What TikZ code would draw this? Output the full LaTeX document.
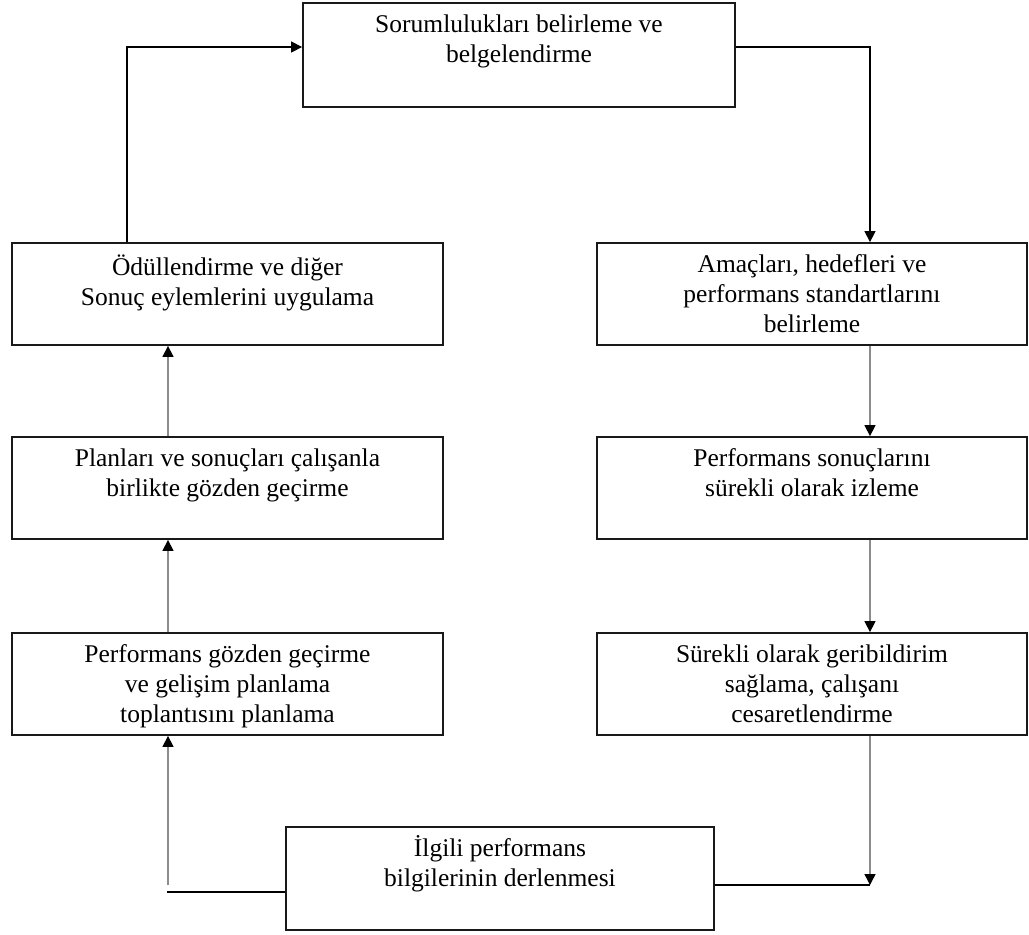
\documentclass[tikz,border=0pt]{standalone}
\usepackage{fontspec}
\setmainfont{Liberation Serif}
\usetikzlibrary{arrows.meta}
\tikzset{
  box/.style={draw=black!90, line width=1.8pt, rectangle, inner sep=0pt},
  txt/.style={inner sep=0pt, anchor=base, font=\fontsize{25.5}{30}\selectfont},
  conn/.style={draw=black, line width=1.3pt},
  greyconn/.style={draw=black!45, line width=1.4pt},
  arr/.style={-{Triangle[length=11pt,width=11pt,color=black]}},
}
\newcommand{\btext}[1]{\parbox[t]{420pt}{\centering #1}}
\begin{document}
\begin{tikzpicture}[x=1pt,y=-1pt]
\useasboundingbox (0,0) rectangle (1029,935);
% boxes
\node[box, minimum width=432pt, minimum height=104pt] (top) at (519,55) {};
\node[box, minimum width=431pt, minimum height=102pt] (l1) at (227.5,294) {};
\node[box, minimum width=431pt, minimum height=102pt] (l2) at (227.5,488) {};
\node[box, minimum width=431pt, minimum height=102pt] (l3) at (227.5,684) {};
\node[box, minimum width=430pt, minimum height=102pt] (r1) at (812,294) {};
\node[box, minimum width=430pt, minimum height=102pt] (r2) at (812,488) {};
\node[box, minimum width=430pt, minimum height=102pt] (r3) at (812,684) {};
\node[box, minimum width=428pt, minimum height=103pt] (bot) at (500,878.5) {};
% texts
\node[txt] (ttop) at ([yshift=-30pt]top.north) {\btext{Sorumlulukları belirleme ve\\belgelendirme}};
\node[txt] (tl1) at ([yshift=-33pt]l1.north) {\btext{Ödüllendirme ve diğer\\Sonuç eylemlerini uygulama}};
\node[txt] (tl2) at ([yshift=-30pt]l2.north) {\btext{Planları ve sonuçları çalışanla\\birlikte gözden geçirme}};
\node[txt] (tl3) at ([yshift=-30pt]l3.north) {\btext{Performans gözden geçirme\\ve gelişim planlama\\toplantısını planlama}};
\node[txt] (tr1) at ([yshift=-30pt]r1.north) {\btext{Amaçları, hedefleri ve\\performans standartlarını\\belirleme}};
\node[txt] (tr2) at ([yshift=-30pt]r2.north) {\btext{Performans sonuçlarını\\sürekli olarak izleme}};
\node[txt] (tr3) at ([yshift=-30pt]r3.north) {\btext{Sürekli olarak geribildirim\\sağlama, çalışanı\\cesaretlendirme}};
\node[txt] (tbot) at ([yshift=-30pt]bot.north) {\btext{İlgili performans\\bilgilerinin derlenmesi}};
% helper coordinates
\coordinate (c1) at (127,47);
\coordinate (c2) at (870,47);
\coordinate (c3) at (870,885);
\coordinate (c4) at (168,885);
\coordinate (c5) at (167,892);
% connectors
\draw[conn, arr] (c1 |- l1.north) -- (c1) -- (top.west |- c1);
\draw[conn, arr] (top.east |- c2) -- (c2) -- (c2 |- r1.north);
\draw[greyconn, arr] (c2 |- r1.south) -- (c2 |- r2.north);
\draw[greyconn, arr] (c2 |- r2.south) -- (c2 |- r3.north);
\draw[greyconn, arr] (c2 |- r3.south) -- (c3);
\draw[conn] (bot.east |- c3) -- (c3);
\draw[conn] (bot.west |- c5) -- (c5);
\draw[greyconn, arr] (c4) -- (c4 |- l3.south);
\draw[greyconn, arr] (c4 |- l3.north) -- (c4 |- l2.south);
\draw[greyconn, arr] (c4 |- l2.north) -- (c4 |- l1.south);
\end{tikzpicture}
\end{document}
